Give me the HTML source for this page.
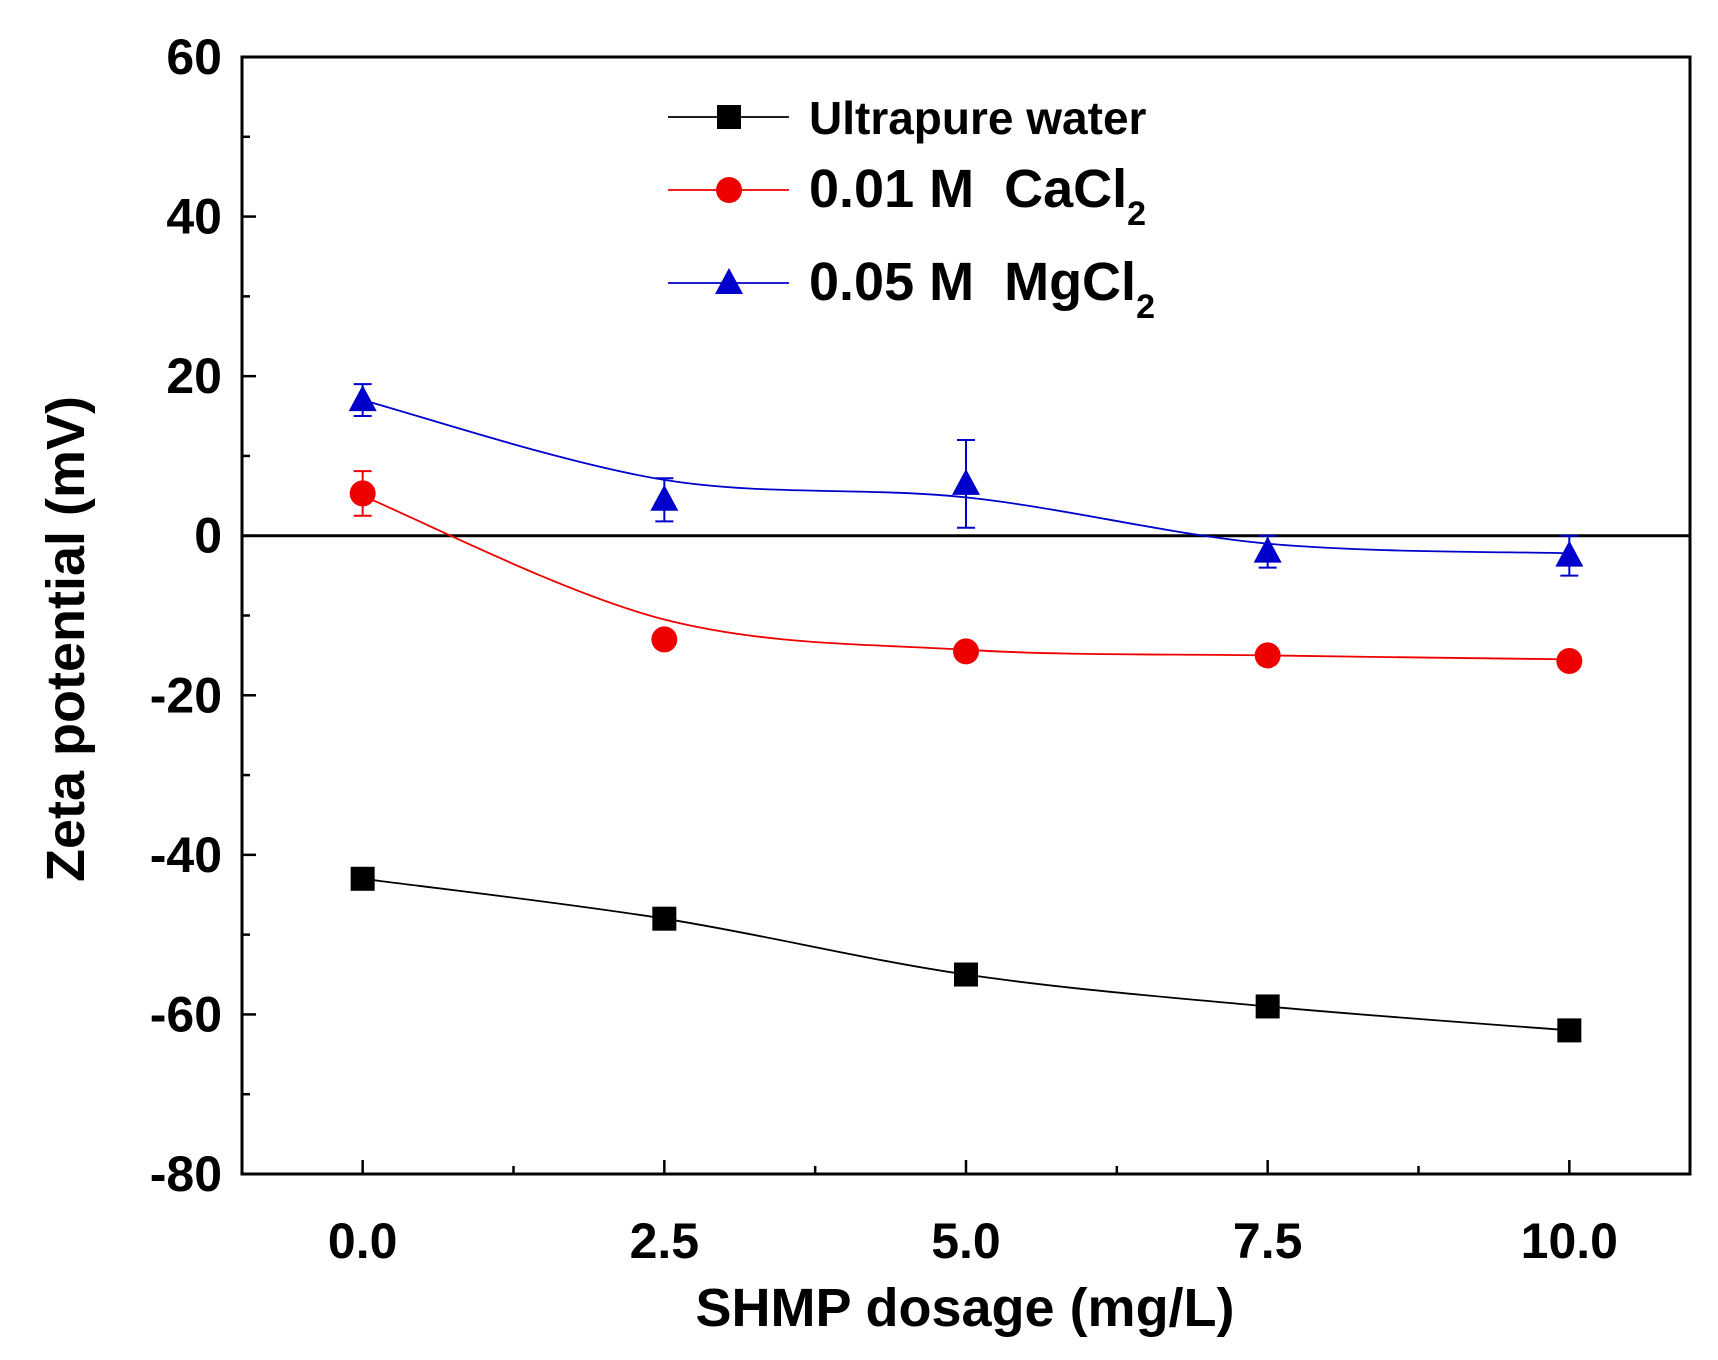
<!DOCTYPE html>
<html><head><meta charset="utf-8"><style>
body{margin:0;background:#fff}
svg{display:block;font-family:"Liberation Sans",Arial,sans-serif;font-weight:bold}
</style></head><body>
<svg id="c" width="1718" height="1360" viewBox="0 0 1718 1360"></svg>
<script>
const xCats=[0,2.5,5,7.5,10];
const water=[-43,-48,-55,-59,-62];
const caVals=[5.3,-13,-14.5,-15,-15.7];
const caErr=[2.8,0,0,0,0];
const caFit=[5,-10.5,-14.3,-15,-15.5];
const mgVals=[17,4.5,6.5,-2,-2.5];
const mgErr=[2,2.7,5.5,2,2.5];
const mgFit=[17,7,4.8,-1,-2.2];
const yTicks=[60,40,20,0,-20,-40,-60,-80];
const xTickLabels=["0.0","2.5","5.0","7.5","10.0"];

const L=242,R=1690,T=57,B=1174;
const X=v=>L+(v+1)/12*(R-L);
const Y=v=>T+(60-v)/140*(B-T);
const svg=document.getElementById('c');
const NS='http://www.w3.org/2000/svg';
function el(t,a,p){const e=document.createElementNS(NS,t);for(const k in a)e.setAttribute(k,a[k]);(p||svg).appendChild(e);return e;}
function smooth(xs,ys){let pts=xs.map((x,i)=>[X(x),Y(ys[i])]);let d='M'+pts[0];for(let i=0;i<pts.length-1;i++){const p0=pts[i-1]||pts[i],p1=pts[i],p2=pts[i+1],p3=pts[i+2]||p2;const c1=[p1[0]+(p2[0]-p0[0])/6,p1[1]+(p2[1]-p0[1])/6],c2=[p2[0]-(p3[0]-p1[0])/6,p2[1]-(p3[1]-p1[1])/6];d+=' C'+c1+' '+c2+' '+p2;}return d;}

let f=el('rect',{x:L,y:T,width:R-L,height:B-T,fill:'none',stroke:'#000','stroke-width':3});

let z=el('line',{x1:L,x2:R,y1:Y(0),y2:Y(0),stroke:'#000','stroke-width':3});

for(let v=-80;v<=60;v+=10){const t=el('line',{x1:L,x2:L+(v%20===0?14:8),y1:Y(v),y2:Y(v),stroke:'#000','stroke-width':2.5});}
yTicks.forEach(v=>{const t=el('text',{x:L-20,y:Y(v)+17,'text-anchor':'end','font-size':50});t.textContent=v;});
for(let v=-1.25;v<=11;v+=1.25){if(v<-1)continue;const t=el('line',{x1:X(v),x2:X(v),y1:B,y2:B-(xCats.includes(v)?14:8),stroke:'#000','stroke-width':2.5});}
xCats.forEach((v,i)=>{const t=el('text',{x:X(v),y:1258,'text-anchor':'middle','font-size':50});t.textContent=xTickLabels[i];});
let xt=el('text',{x:965,y:1326,'text-anchor':'middle','font-size':54});xt.textContent='SHMP dosage (mg/L)';

let yt=el('text',{x:0,y:0,'text-anchor':'middle','font-size':54,transform:'translate(84,639) rotate(-90)'});yt.textContent='Zeta potential (mV)';


function series(name,vals,fit,err,color,shape){
  const g=el('g',{});
  const p=el('path',{d:smooth(xCats,fit),fill:'none',stroke:color,'stroke-width':1.8},g);
  
  xCats.forEach((x,i)=>{
    const cx=X(x),cy=Y(vals[i]);
    if(err[i]>0){const e=el('path',{d:`M${cx},${Y(vals[i]+err[i])}V${Y(vals[i]-err[i])}M${cx-9},${Y(vals[i]+err[i])}h18M${cx-9},${Y(vals[i]-err[i])}h18`,stroke:color,'stroke-width':2,fill:'none'},g);}
    const m=marker(cx,cy,color,shape,g);
  });
}
function marker(cx,cy,color,shape,g){
  if(shape==='sq')return el('rect',{x:cx-12,y:cy-12,width:24,height:24,fill:color},g);
  if(shape==='ci')return el('circle',{cx,cy,r:13,fill:color},g);
  return el('path',{d:`M${cx},${cy-15}L${cx+14},${cy+11}L${cx-14},${cy+11}Z`,fill:color},g);
}
series('ultrapure-water',water,water,[0,0,0,0,0],'#000','sq');
series('cacl2',caVals,caFit,caErr,'#e00','ci');
series('mgcl2',mgVals,mgFit,mgErr,'#00c','tr');

const leg=[['Ultrapure water','#000','sq',117,46,''],['0.01 M\u00a0\u00a0CaCl','#e00','ci',190,54,'2'],['0.05 M\u00a0\u00a0MgCl','#00c','tr',283,54,'2']];
leg.forEach(l=>{
  const g=el('g',{});
  el('line',{x1:668,x2:789,y1:l[3],y2:l[3],stroke:l[1],'stroke-width':1.8},g);
  marker(729,l[3],l[1],l[2],g);
  const t=el('text',{x:809,y:l[3]+17,'font-size':l[4]},g);t.textContent=l[0];
  if(l[5]){const s=el('tspan',{'font-size':34,dy:18},t);s.textContent=l[5];}
});
</script>
</body></html>
